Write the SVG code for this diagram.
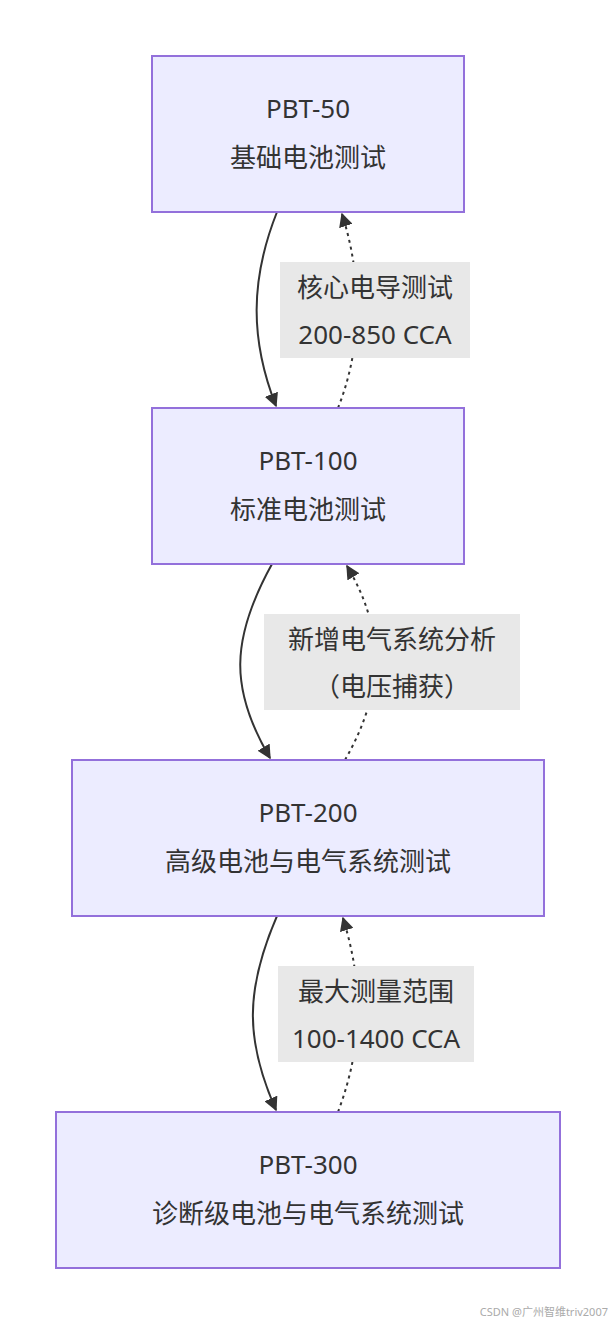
<svg xmlns="http://www.w3.org/2000/svg" width="616" height="1324" viewBox="0 0 616 1324">
<style>
.n{fill:#ececff;stroke:#9370db;stroke-width:2}
.t{font-family:"Noto Sans","Noto Sans CJK SC",sans-serif;font-size:26px;fill:#333;text-anchor:middle}
.e{fill:none;stroke:#333;stroke-width:2}
.d{fill:none;stroke:#333;stroke-width:2;stroke-dasharray:3 4}
.lb{fill:#e8e8e8}
</style>
<defs><marker id="a" viewBox="0 0 10 10" refX="9" refY="5" markerWidth="8" markerHeight="8" orient="auto-start-reverse" markerUnits="userSpaceOnUse"><path d="M0,0L10,5L0,10z" fill="#333"/></marker>
<marker id="b" viewBox="0 0 10 10" refX="9" refY="5" markerWidth="14" markerHeight="14" orient="auto" markerUnits="userSpaceOnUse"><path d="M0,0L10,5L0,10z" fill="#333"/></marker></defs>
<rect width="616" height="1324" fill="#fff"/>
<g id="edges">
<path class="e" d="M277,212 C250,280 250,340 276,406" marker-end="url(#b)"/>
<path class="d" d="M338,408 C365,340 360,270 342,214" marker-end="url(#b)"/>
<path class="e" d="M272,564 C230,640 230,690 270,758" marker-end="url(#b)"/>
<path class="d" d="M345,760 C385,690 385,630 347,566" marker-end="url(#b)"/>
<path class="e" d="M277,916 C245,990 245,1040 276,1110" marker-end="url(#b)"/>
<path class="d" d="M338,1112 C365,1040 362,980 343,918" marker-end="url(#b)"/>
<rect class="lb" x="280" y="262" width="190" height="96"/>
<text class="t" x="375" y="297">核心电导测试</text><text class="t" x="375" y="344">200-850 CCA</text>
<rect class="lb" x="264" y="614" width="256" height="96"/>
<text class="t" x="392" y="649">新增电气系统分析</text><text class="t" x="392" y="696">（电压捕获）</text>
<rect class="lb" x="278" y="966" width="196" height="96"/>
<text class="t" x="376" y="1001">最大测量范围</text><text class="t" x="376" y="1048">100-1400 CCA</text>
</g>
<g id="n1"><rect class="n" x="152" y="56" width="312" height="156"/><text class="t" x="308" y="118">PBT-50</text><text class="t" x="308" y="167">基础电池测试</text></g>
<g id="n2"><rect class="n" x="152" y="408" width="312" height="156"/><text class="t" x="308" y="470">PBT-100</text><text class="t" x="308" y="519">标准电池测试</text></g>
<g id="n3"><rect class="n" x="72" y="760" width="472" height="156"/><text class="t" x="308" y="822">PBT-200</text><text class="t" x="308" y="871">高级电池与电气系统测试</text></g>
<g id="n4"><rect class="n" x="56" y="1112" width="504" height="156"/><text class="t" x="308" y="1174">PBT-300</text><text class="t" x="308" y="1223">诊断级电池与电气系统测试</text></g>
<text x="608" y="1316" font-family="Noto Sans,Noto Sans CJK SC,sans-serif" font-size="11" fill="#aaa" text-anchor="end">CSDN @广州智维triv2007</text>
</svg>
